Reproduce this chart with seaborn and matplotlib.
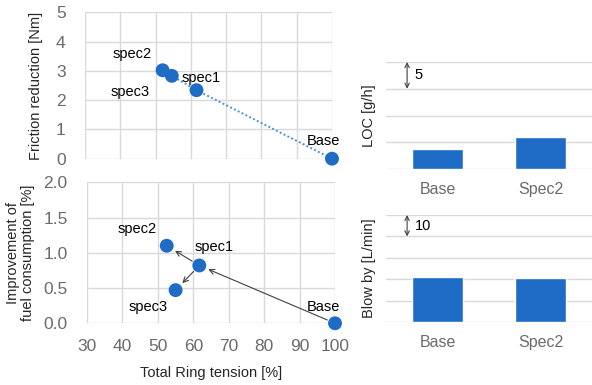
import matplotlib
matplotlib.use("Agg")
import matplotlib.pyplot as plt
import seaborn as sns
import pandas as pd

# Ring specifications
specs = ["spec2", "spec3", "spec1", "Base"]
tension_friction = [52.0, 54.6, 61.6, 100.0]
friction_reduction = [3.02, 2.83, 2.34, 0.0]
tension_fuel = [52.5, 55.0, 61.7, 100.0]
fuel_improvement = [1.10, 0.47, 0.82, 0.0]

# Engine measurements
bar_categories = ["Base", "Spec2"]
loc_values = [3.75, 6.0]
blowby_values = [21.3, 20.7]

BLUE = "#1f6cc6"
DOT_BLUE = "#4a8fdc"
GRID = "#d9d9d9"
TICK = "#6b6b6b"

sns.set_theme(style="whitegrid")
plt.rcParams["font.family"] = ["Liberation Sans", "DejaVu Sans"]
plt.rcParams["grid.color"] = GRID
plt.rcParams["grid.linewidth"] = 1.0

fig = plt.figure(figsize=(5.92, 3.85), dpi=100)
fig.patch.set_facecolor("white")

ax1 = fig.add_axes([0.1436, 0.5878, 0.4172, 0.3803])
ax2 = fig.add_axes([0.1470, 0.1603, 0.4189, 0.3662])
ax3 = fig.add_axes([0.652, 0.561, 0.348, 0.2779])
ax4 = fig.add_axes([0.652, 0.1629, 0.348, 0.2787])

df_fr = pd.DataFrame({"tension": tension_friction, "value": friction_reduction, "spec": specs})
df_fc = pd.DataFrame({"tension": tension_fuel, "value": fuel_improvement, "spec": specs})


def style_scatter_axes(ax, ylim, yticks, fmt):
    ax.set_xlim(30, 100)
    ax.set_ylim(*ylim)
    ax.set_xticks(range(30, 101, 10))
    ax.set_yticks(yticks)
    ax.set_yticklabels([fmt.format(v) for v in yticks])
    for s in ax.spines.values():
        s.set_visible(False)
    ax.grid(True, color=GRID, linewidth=1.0)
    ax.tick_params(axis="both", colors=TICK, labelsize=12.5, length=0)
    ax.set_facecolor("white")


# Friction reduction vs ring tension
sns.lineplot(data=df_fr.sort_values("tension"), x="tension", y="value", ax=ax1,
             color=DOT_BLUE, linestyle=(0, (1, 1.2)), linewidth=1.4, sort=True)
sns.scatterplot(data=df_fr, x="tension", y="value", ax=ax1, color=BLUE, s=100,
                edgecolor="none", zorder=5, clip_on=False)
style_scatter_axes(ax1, (0, 5), [0, 1, 2, 3, 4, 5], "{:.0f}")
ax1.tick_params(axis="y", pad=14)
ax1.set_xticklabels([])
ax1.set_xlabel("")
ax1.set_ylabel("Friction reduction [Nm]", fontsize=10.5, color="#262626")
ax1.yaxis.set_label_coords(-0.17, 0.5)

lab1 = {"spec2": (-22, 12), "spec3": (-30, -11.5), "spec1": (3.6, 9), "Base": (-6, 13)}
for sp, x, y in zip(specs, tension_friction, friction_reduction):
    dx, dy = lab1[sp]
    ax1.annotate(sp, (x, y), xytext=(dx, dy), textcoords="offset points",
                 ha="center", va="center", fontsize=10.5, color="black")

# Fuel consumption improvement vs ring tension
sns.scatterplot(data=df_fc, x="tension", y="value", ax=ax2, color=BLUE, s=100,
                edgecolor="none", zorder=5, clip_on=False)
style_scatter_axes(ax2, (0, 2.0), [0.0, 0.5, 1.0, 1.5, 2.0], "{:.1f}")
ax2.tick_params(axis="y", pad=14)
ax2.tick_params(axis="x", pad=11)
ax2.set_xlabel("Total Ring tension [%]", fontsize=10.5, color="#262626", labelpad=9)
ax2.set_ylabel("Improvement of\nfuel consumption [%]", fontsize=10.5, color="#262626",
               linespacing=1.1)
ax2.yaxis.set_label_coords(-0.21, 0.5)

pts = dict(zip(specs, zip(tension_fuel, fuel_improvement)))
arrow_kw = dict(arrowstyle="->", color="#404040", lw=0.8, shrinkA=6, shrinkB=7,
                mutation_scale=9)
for a, b in [("Base", "spec1"), ("spec1", "spec2"), ("spec1", "spec3")]:
    ax2.annotate("", xy=pts[b], xytext=pts[a], arrowprops=arrow_kw, zorder=4)

lab2 = {"spec2": (-21.5, 12), "spec1": (11, 13.5), "spec3": (-20, -12), "Base": (-8, 12)}
for sp, x, y in zip(specs, tension_fuel, fuel_improvement):
    dx, dy = lab2[sp]
    ax2.annotate(sp, (x, y), xytext=(dx, dy), textcoords="offset points",
                 ha="center", va="center", fontsize=10.5, color="black")


# Bar charts
def style_bar_axes(ax, ymax, step, ylabel):
    ax.set_xlim(-0.5, 1.5)
    ax.set_ylim(0, ymax)
    ax.set_yticks(range(0, ymax + 1, step))
    ax.set_yticklabels([])
    ax.grid(True, axis="y", color=GRID, linewidth=1.0)
    ax.grid(False, axis="x")
    for s in ax.spines.values():
        s.set_visible(False)
    ax.tick_params(axis="both", length=0, colors=TICK, labelsize=11.5)
    ax.tick_params(axis="x", pad=9)
    ax.set_xlabel("")
    ax.set_ylabel(ylabel, fontsize=10.5, color="#262626")
    ax.yaxis.set_label_coords(-0.05, 0.5)
    ax.set_facecolor("white")
    # scale marker spanning one grid step
    ax.annotate("", xy=(-0.295, ymax), xytext=(-0.295, ymax - step),
                arrowprops=dict(arrowstyle="<->", color="#404040", lw=0.8,
                                shrinkA=0, shrinkB=0, mutation_scale=8))
    ax.text(-0.22, ymax - step / 2, str(step), fontsize=10.5, color="black",
            ha="left", va="center")


df_loc = pd.DataFrame({"cat": bar_categories, "val": loc_values})
df_bb = pd.DataFrame({"cat": bar_categories, "val": blowby_values})
sns.barplot(data=df_loc, x="cat", y="val", ax=ax3, color=BLUE, width=0.5,
            saturation=1, zorder=3)
sns.barplot(data=df_bb, x="cat", y="val", ax=ax4, color=BLUE, width=0.5,
            saturation=1, zorder=3)
style_bar_axes(ax3, 20, 5, "LOC [g/h]")
style_bar_axes(ax4, 50, 10, "Blow by [L/min]")

fig.savefig("out.png", dpi=100, facecolor="white")
